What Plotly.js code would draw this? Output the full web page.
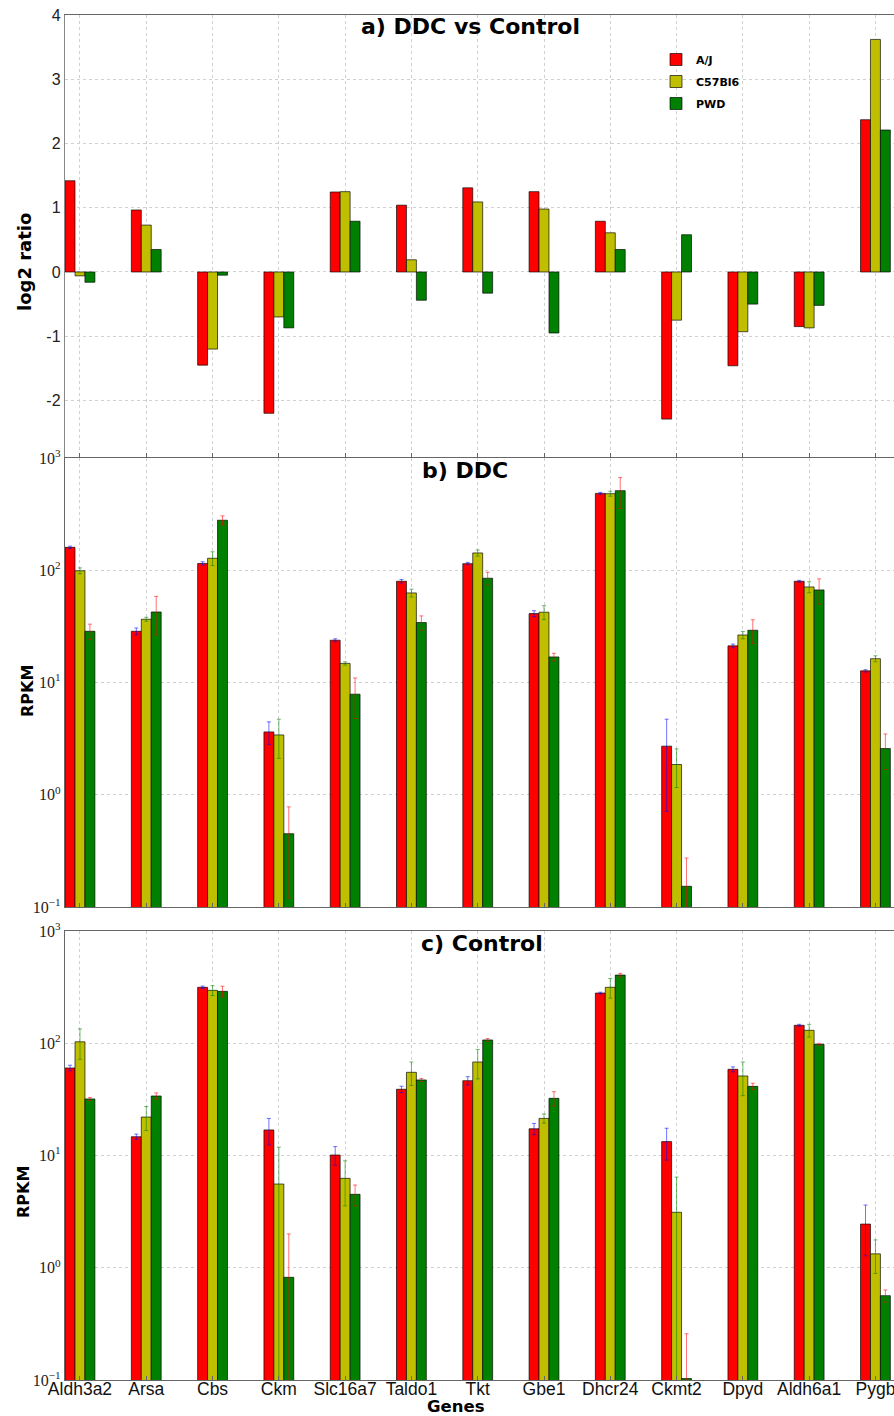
<!DOCTYPE html>
<html>
<head>
<meta charset="utf-8">
<script src="https://cdn.plot.ly/plotly-3.0.1.min.js"></script>
<style>html,body{margin:0;padding:0;background:#fff;}</style>
</head>
<body>
<div id="chart" style="width:894px;height:1416px;"></div>
<script>
// ---- data ----
var genes = ['Aldh3a2','Arsa','Cbs','Ckm','Slc16a7','Taldo1','Tkt','Gbe1','Dhcr24','Ckmt2','Dpyd','Aldh6a1','Pygb'];
var strains = ['A/J','C57Bl6','PWD'];

// a) DDC vs Control, log2 ratio
var ratio_AJ  = [1.42, 0.965, -1.45, -2.20, 1.245, 1.04, 1.31, 1.25, 0.79, -2.29, -1.46, -0.85, 2.37];
var ratio_B6  = [-0.06, 0.73, -1.20, -0.70, 1.25, 0.19, 1.09, 0.98, 0.61, -0.75, -0.93, -0.87, 3.62];
var ratio_PWD = [-0.16, 0.35, -0.05, -0.87, 0.79, -0.44, -0.33, -0.95, 0.35, 0.58, -0.50, -0.52, 2.21];

// b) DDC, RPKM
var ddc_AJ      = [160, 28.6, 115, 3.63, 23.8, 79.8, 114.5, 41.1, 484, 2.71, 21.2, 79.8, 12.7];
var ddc_AJ_err  = [4, 2, 4, 0.83, 0.7, 3, 3, 2.5, 10, 2.0, 0.8, 1.5, 0.3];
var ddc_B6      = [99, 36.6, 128, 3.41, 14.8, 62.8, 142.6, 42.3, 481, 1.86, 26.5, 71, 16.3];
var ddc_B6_err  = [6, 1.5, 18, 1.3, 0.5, 5, 9, 6, 25, 0.7, 2, 8, 1];
var ddc_PWD     = [28.6, 42.5, 279, 0.45, 7.87, 34.2, 84.9, 16.9, 512, 0.153, 29.2, 66.8, 2.58];
var ddc_PWD_err = [4.5, 16, 26, 0.33, 3.1, 5, 11, 1.3, 157, 0.12, 7, 17, 0.9];

// c) Control, RPKM
var ctl_AJ      = [60.2, 14.7, 315, 16.9, 10.1, 38.9, 46.4, 17.3, 280, 13.3, 58.6, 144.5, 2.45];
var ctl_AJ_err  = [3.5, 0.8, 8, 4.5, 1.9, 2.5, 4, 2, 5, 4.2, 3, 3, 1.17];
var ctl_B6      = [103, 22.0, 296, 5.57, 6.26, 55.1, 68.1, 21.4, 315, 3.12, 51.1, 130.4, 1.33];
var ctl_B6_err  = [31, 5.3, 30, 6.3, 2.7, 13, 20, 2, 63, 3.3, 17, 17, 0.44];
var ctl_PWD     = [31.9, 33.9, 290, 0.822, 4.51, 47.1, 107, 32.3, 405, 0.103, 41.3, 97.8, 0.564];
var ctl_PWD_err = [1, 2.2, 32, 1.18, 0.95, 1.5, 3, 4.7, 15, 0.155, 2.7, 2, 0.07];

var logTickVals = [0.1, 1, 10, 100, 1000];
var logTickText = ['10<sup>\u22121</sup>', '10<sup>0</sup>', '10<sup>1</sup>', '10<sup>2</sup>', '10<sup>3</sup>'];
var ratioTickVals = [-2, -1, 0, 1, 2, 3, 4];
var ratioTickText = ['-2', '-1', '0', '1', '2', '3', '4'];

// ---- styles ----
var barColors = ['#ff0000', '#bfbf00', '#008000'];
var errColors = ['rgba(0,0,255,0.55)', 'rgba(0,128,0,0.55)', 'rgba(255,0,0,0.55)'];

function mk(yvals, errs, idx, xa, ya, showLeg) {
  var t = {
    type: 'bar', x: genes, y: yvals, name: strains[idx],
    xaxis: xa, yaxis: ya, legendgroup: strains[idx], showlegend: showLeg,
    marker: {color: barColors[idx], line: {color: 'rgba(0,0,0,0.65)', width: 1}},
    hoverinfo: 'x+y'
  };
  if (errs) {
    t.error_y = {type: 'data', array: errs, visible: true, color: errColors[idx], thickness: 1, width: 2};
  }
  return t;
}

var data = [
  mk(ratio_AJ, null, 0, 'x3', 'y3', true),
  mk(ratio_B6, null, 1, 'x3', 'y3', true),
  mk(ratio_PWD, null, 2, 'x3', 'y3', true),
  mk(ddc_AJ, ddc_AJ_err, 0, 'x2', 'y2', false),
  mk(ddc_B6, ddc_B6_err, 1, 'x2', 'y2', false),
  mk(ddc_PWD, ddc_PWD_err, 2, 'x2', 'y2', false),
  mk(ctl_AJ, ctl_AJ_err, 0, 'x', 'y', false),
  mk(ctl_B6, ctl_B6_err, 1, 'x', 'y', false),
  mk(ctl_PWD, ctl_PWD_err, 2, 'x', 'y', false)
];

var xRange = [-0.226, 12.28];
function xax(anchor, labels) {
  return {
    anchor: anchor, domain: [0, 1], type: 'category', categoryorder: 'array', categoryarray: genes,
    range: xRange, showgrid: true, gridcolor: '#d0d0d0', griddash: 'dot', gridwidth: 1,
    showline: true, mirror: true, linecolor: '#666', linewidth: 1.2,
    ticks: 'inside', ticklen: 4, tickcolor: '#666',
    showticklabels: labels, ticklabelstandoff: -7,
    tickfont: {family: 'Liberation Sans, Arial, sans-serif', size: 17.5, color: '#111'},
    zeroline: false, fixedrange: true
  };
}
function logy(anchor, dom) {
  return {
    anchor: anchor, domain: dom, type: 'log', range: [-1, 3],
    tickvals: logTickVals, ticktext: logTickText,
    tickfont: {family: 'Liberation Serif, DejaVu Serif, serif', size: 16, color: '#222'},
    showgrid: true, gridcolor: '#d0d0d0', griddash: 'dot', gridwidth: 1,
    showline: true, linecolor: '#666', linewidth: 1.2, ticks: '', zeroline: false, fixedrange: true
  };
}

var H = 1365, B = 1380;
function py(p) { return (B - p) / H; }
function px(p) { return (p - 65) / 829; }

var layout = {
  width: 894, height: 1416,
  margin: {l: 65, r: 0, t: 15, b: 36},
  paper_bgcolor: '#fff', plot_bgcolor: '#fff',
  barmode: 'group', bargap: 0.55, bargroupgap: 0,
  font: {family: 'DejaVu Sans, sans-serif', color: '#000'},
  xaxis: xax('y', true),
  xaxis2: xax('y2', false),
  xaxis3: xax('y3', false),
  yaxis: logy('x', [0, py(931)]),
  yaxis2: logy('x2', [py(907), py(458)]),
  yaxis3: {
    anchor: 'x3', domain: [py(457), 1], range: [-2.88, 4],
    tickvals: ratioTickVals, ticktext: ratioTickText,
    tickfont: {family: 'Liberation Sans, Arial, sans-serif', size: 16, color: '#222'},
    showgrid: true, gridcolor: '#d0d0d0', griddash: 'dot', gridwidth: 1,
    showline: true, linecolor: '#888', linewidth: 1.2, ticks: '', zeroline: false, fixedrange: true
  },
  showlegend: true,
  legend: {
    x: px(656), y: py(45), xanchor: 'left', yanchor: 'top',
    bgcolor: 'rgba(255,255,255,0)', borderwidth: 0,
    font: {family: 'DejaVu Sans, sans-serif', size: 11, color: '#000', weight: 'bold'},
    tracegroupgap: 3, itemclick: false, itemdoubleclick: false
  },
  annotations: [
    {text: '<b>a) DDC vs Control</b>', xref: 'paper', yref: 'paper', x: px(470), y: py(27), xanchor: 'center', yanchor: 'middle', showarrow: false, font: {family: 'DejaVu Sans, sans-serif', size: 22, color: '#000'}},
    {text: '<b>b) DDC</b>', xref: 'paper', yref: 'paper', x: px(465), y: py(470), xanchor: 'center', yanchor: 'middle', showarrow: false, font: {family: 'DejaVu Sans, sans-serif', size: 22, color: '#000'}},
    {text: '<b>c) Control</b>', xref: 'paper', yref: 'paper', x: px(482), y: py(943), xanchor: 'center', yanchor: 'middle', showarrow: false, font: {family: 'DejaVu Sans, sans-serif', size: 22, color: '#000'}},
    {text: '<b>log2 ratio</b>', xref: 'paper', yref: 'paper', x: px(24), y: py(262), xanchor: 'center', yanchor: 'middle', textangle: -90, showarrow: false, font: {family: 'DejaVu Sans, sans-serif', size: 18, color: '#000'}},
    {text: '<b>RPKM</b>', xref: 'paper', yref: 'paper', x: px(27), y: py(691), xanchor: 'center', yanchor: 'middle', textangle: -90, showarrow: false, font: {family: 'DejaVu Sans, sans-serif', size: 16, color: '#000'}},
    {text: '<b>RPKM</b>', xref: 'paper', yref: 'paper', x: px(23), y: py(1192), xanchor: 'center', yanchor: 'middle', textangle: -90, showarrow: false, font: {family: 'DejaVu Sans, sans-serif', size: 16, color: '#000'}},
    {text: '<b>Genes</b>', xref: 'paper', yref: 'paper', x: px(456), y: py(1406), xanchor: 'center', yanchor: 'middle', borderpad: 0, showarrow: false, font: {family: 'DejaVu Sans, sans-serif', size: 16.5, color: '#000'}}
  ]
};

Plotly.newPlot('chart', data, layout, {displayModeBar: false, staticPlot: true});
</script>
</body>
</html>
